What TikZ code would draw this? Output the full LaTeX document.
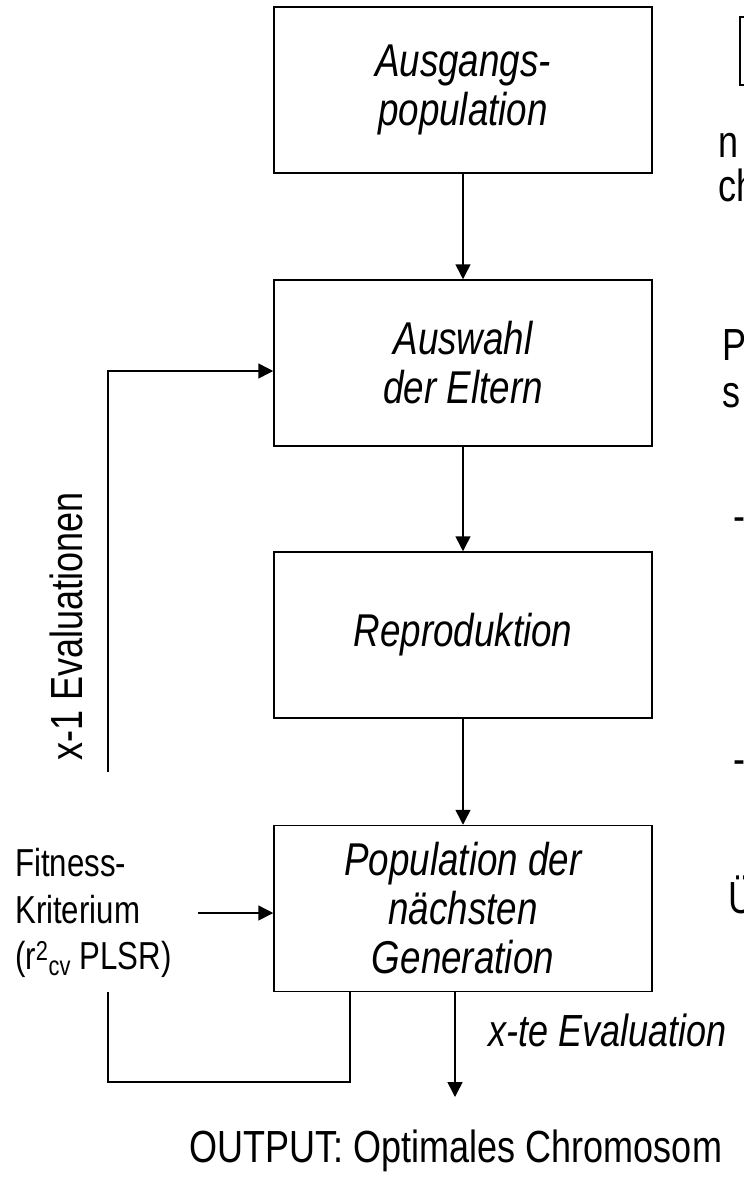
\documentclass[tikz,border=0pt]{standalone}
\usepackage{fontspec}
\setmainfont{Liberation Sans}[FakeStretch=0.8]
\usetikzlibrary{arrows.meta}
\begin{document}
\begin{tikzpicture}[x=1pt,y=-1pt,
  box/.style={draw, line width=1.5pt, minimum width=378pt, minimum height=166pt, inner sep=0pt, align=center, font=\fontsize{46}{49}\selectfont\itshape},
  conn/.style={line width=1.5pt},
  arr/.style={conn, -{Triangle[length=15pt,width=15pt]}},
  lbl/.style={font=\fontsize{45}{48}\selectfont, inner sep=0pt},
  ilbl/.style={font=\fontsize{45}{48}\selectfont\itshape, inner sep=0pt},
  fitlbl/.style={font=\fontsize{39}{46.7}\selectfont, inner sep=0pt, align=left}
]
\useasboundingbox (0,0) rectangle (744,1179);
\clip (0,0) rectangle (744,1179);

\node[box] (b1) at (463,90) {Ausgangs-\\population};
\node[box] (b2) at (463,363) {Auswahl\\der Eltern};
\node[box] (b3) at (463,635) {Reproduktion};
\node[box] (b4) at (463,908.5) {Population der\\nächsten\\Generation};

\draw[arr] (b1) -- (b2);
\draw[arr] (b2) -- (b3);
\draw[arr] (b3) -- (b4);

\coordinate (fl) at (108,772);
\draw[arr] (fl) |- ([yshift=-8pt]b2.west);
\node[lbl, rotate=90, anchor=base] (xe) at (82,626) {x-1 Evaluationen};

\node[fitlbl, anchor=west] (fit) at (15,913) {Fitness-\\Kriterium\\(r\textsuperscript{2}\textsubscript{cv} PLSR)};
\coordinate (fa) at (198,913);
\draw[arr] (fa) -- (fa -| b4.west);

\coordinate (lb) at (350,1082);
\coordinate (lt) at (108,992);
\draw[conn] (b4.south -| lb) -- (lb) -| (lt);

\coordinate (oa) at (455,1097);
\draw[arr] (b4.south -| oa) -- (oa);
\node[ilbl, anchor=base west] (xte) at (488,1046) {x-te Evaluation};
\node[lbl, anchor=base] (out) at (456,1162) {OUTPUT: Optimales Chromosom};

% cut-off fragments at the right edge
\draw[conn] (748,17) -- (740,17) -- (740,85) -- (748,85);
\node[lbl, anchor=base west] (f1) at (718,157) {n};
\node[lbl, anchor=base west] (f2) at (718,201) {ch};
\node[lbl, anchor=base west] (f3) at (722,360) {P};
\node[lbl, anchor=base west] (f4) at (722,407) {s};
\node[lbl, anchor=base west] (f5) at (733,531) {-};
\node[lbl, anchor=base west] (f6) at (733,774) {-};
\node[lbl, anchor=base west] (f7) at (728,913) {Ü};
\end{tikzpicture}
\end{document}
